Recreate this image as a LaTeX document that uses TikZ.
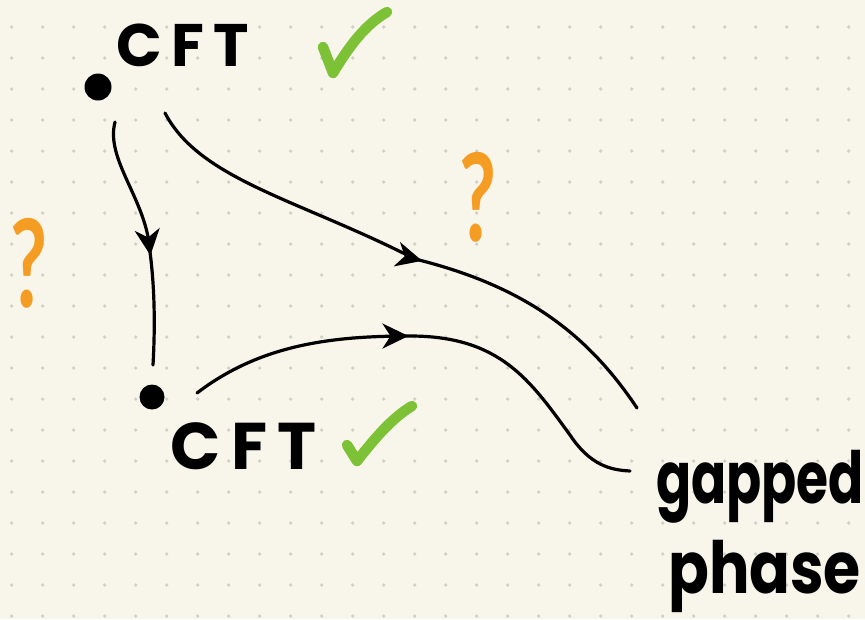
\documentclass[tikz,border=0pt]{standalone}
\usepackage{fontspec}
\setmainfont{Poppins}
\newfontfamily\handfont[LetterSpace=16]{Poppins}
\newfontfamily\qfont{Lato}
\usetikzlibrary{arrows.meta, decorations.markings}

\definecolor{paper}{RGB}{248,246,234}
\definecolor{griddot}{RGB}{208,207,200}
\definecolor{tickgreen}{RGB}{125,193,55}
\definecolor{qorange}{RGB}{245,157,35}

\begin{document}
\begin{tikzpicture}[x=1pt, y=-1pt,
    flow/.style={line width=3.2pt, line cap=round, line join=round},
    midarrow/.style={postaction={decorate}, decoration={markings,
        mark=at position #1 with {\arrow{Stealth[length=26pt, width=25pt, inset=8pt]}}}},
    fixedpt/.style={circle, fill=black, inner sep=0pt, minimum size=27pt},
    cftlabel/.style={font=\handfont\bfseries\fontsize{60}{60}\selectfont, anchor=base west, inner sep=0pt},
    phaselabel/.style={font=\bfseries\fontsize{72}{72}\selectfont, anchor=base west, inner sep=0pt, xscale=0.72},
    qmark/.style={qorange, font=\qfont\bfseries\fontsize{122}{122}\selectfont, inner sep=0pt, xscale=0.66},
    tick/.style={tickgreen, line width=10.5pt, line cap=round, line join=round}]

    % Paper with dotted grid
    \fill[paper] (0,0) rectangle (865,619);
    \useasboundingbox (0,0) rectangle (865,619);
    \foreach \i in {0,...,27} {
        \foreach \j in {0,...,19} {
            \fill[griddot] ({11.7+31*\i},{27+31*\j}) circle (1.8pt);
        }
    }

    % Fixed points
    \node[fixedpt] (uvcft) at (98,87) {};
    \node[fixedpt, minimum size=25pt] (ircft) at (152,397) {};
    \node[cftlabel] (uvlabel) at (116,66) {CFT};
    \node[cftlabel, font=\handfont\bfseries\fontsize{66}{66}\selectfont] (irlabel) at (170,469) {CFT};

    % Where the flows end up
    \coordinate (upperend) at (637,408);
    \coordinate (lowerend) at (630,471);
    \node[phaselabel] (gapped) at (656,503) {gapped};
    \node[phaselabel, xscale=1.16] (phase) at (668,593) {phase};

    % RG flows
    \draw[flow, midarrow=0.56] ([shift={(17,35)}]uvcft.center)
        .. controls (105,160) and (147,200) .. (150,252)
        .. controls (155,290) and (155,330) .. ([shift={(1,-32)}]ircft.center);
    \draw[flow, midarrow=0.53] ([shift={(67,26)}]uvcft.center)
        .. controls (200,180) and (300,200) .. (415,259)
        .. controls (520,285) and (585,330) .. (upperend);
    \draw[flow, midarrow=0.45] ([shift={(45,-4)}]ircft.center)
        .. controls (260,345) and (330,336) .. (410,336)
        .. controls (500,336) and (530,380) .. (570,435)
        .. controls (590,465) and (610,470) .. (lowerend);

    % Checks and question marks
    \draw[tick] (323,47) -- (333,73) .. controls (350,45) and (365,25) .. (387,12);
    \draw[tick] (347,445) -- (357,461) .. controls (375,438) and (392,418) .. (412,406);
    \node[qmark] (uvq) at (478,197) {?};
    \node[qmark] (flowq) at (29,263) {?};

\end{tikzpicture}
\end{document}
